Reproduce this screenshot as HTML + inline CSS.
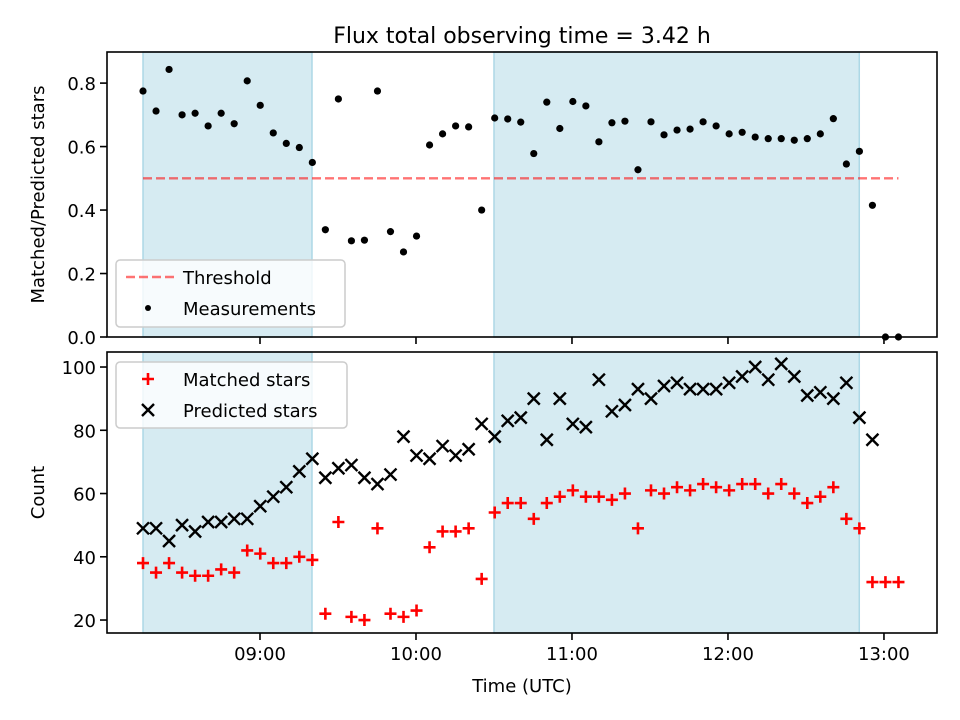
<!DOCTYPE html>
<html><head><meta charset="utf-8"><style>
html,body{margin:0;padding:0;background:#fff;}
svg{display:block;font-family:"DejaVu Sans","Liberation Sans",sans-serif;}
</style></head><body>
<svg id="fig" width="960" height="720" viewBox="0 0 960 720" xmlns="http://www.w3.org/2000/svg">
<rect width="960" height="720" fill="#fff"/>
<text x="522" y="43" font-size="22" text-anchor="middle">Flux total observing time = 3.42 h</text>
<g id="top"></g><g id="bot"></g>
</svg>
<script>
// minutes after 08:15, 5-minute cadence
const ratioVals=[0.775,0.712,0.843,0.700,0.705,0.665,0.705,0.672,0.807,0.730,0.643,0.610,0.597,0.550,0.338,0.750,0.303,0.305,0.775,0.332,0.268,0.318,0.605,0.640,0.665,0.662,0.400,0.690,0.687,0.677,0.578,0.740,0.657,0.742,0.728,0.615,0.675,0.680,0.527,0.678,0.637,0.652,0.655,0.678,0.665,0.640,0.645,0.630,0.625,0.625,0.620,0.625,0.640,0.688,0.545,0.585,0.415,0.0,0.0];
const matchedVals=[38,35,38,35,34,34,36,35,42,41,38,38,40,39,22,51,21,20,49,22,21,23,43,48,48,49,33,54,57,57,52,57,59,61,59,59,58,60,49,61,60,62,61,63,62,61,63,63,60,63,60,57,59,62,52,49,32,32,32];
const predictedVals=[49,49,45,50,48,51,51,52,52,56,59,62,67,71,65,68,69,65,63,66,78,72,71,75,72,74,82,78,83,84,90,77,90,82,81,96,86,88,93,90,94,95,93,93,93,95,97,100,96,101,97,91,92,90,95,84,77];
const startMin=8*60+15, stepMin=5.01;
const shadeSpans=[[8*60+15,9*60+20],[10*60+30,12*60+50.5]];
const xTickLabels=["09:00","10:00","11:00","12:00","13:00"];
const xTickMins=[540,600,660,720,780];
const topTicks=[0,0.2,0.4,0.6,0.8];
const botTicks=[20,40,60,80,100];
const threshold=0.5;

const NS="http://www.w3.org/2000/svg";
const L=107,R=937;
const xMin=481.15,xMax=800.4;
const x=m=>L+(m-xMin)/(xMax-xMin)*(R-L);
const T={top:52,bot:337,min:0,max:0.898};
const B={top:352,bot:633,min:15.9,max:104.75};
const yT=v=>T.bot-(v-T.min)/(T.max-T.min)*(T.bot-T.top);
const yB=v=>B.bot-(v-B.min)/(B.max-B.min)*(B.bot-B.top);
function el(parent,tag,attrs,text){const e=document.createElementNS(NS,tag);for(const k in attrs)e.setAttribute(k,attrs[k]);if(text!==undefined)e.textContent=text;parent.appendChild(e);return e;}
const gT=document.getElementById('top'),gB=document.getElementById('bot');

function panel(g,P,yf,ticks,fmt,showX,ylab,nm){
  shadeSpans.forEach((s,i)=>{
    const r=el(g,'rect',{x:x(s[0]),y:P.top,width:x(s[1])-x(s[0]),height:P.bot-P.top,fill:'#add8e6','fill-opacity':0.5,stroke:'#add8e6','stroke-width':1.5});
    
    
  });
  ticks.forEach(t=>{
    const yy=yf(t);
    el(g,'line',{x1:L-7,x2:L,y1:yy,y2:yy,stroke:'#000','stroke-width':1.6});
    const tx=el(g,'text',{x:L-11,y:yy+7,'font-size':18,'text-anchor':'end'},fmt(t));
    
    
  });
  xTickMins.forEach((m,i)=>{
    el(g,'line',{x1:x(m),x2:x(m),y1:P.bot,y2:P.bot+7,stroke:'#000','stroke-width':1.6});
    if(showX){
      const tx=el(g,'text',{x:x(m),y:P.bot+27,'font-size':18,'text-anchor':'middle'},xTickLabels[i]);
      
      
    }
  });
  const yl=el(g,'text',{transform:`translate(44,${(P.top+P.bot)/2}) rotate(-90)`,'font-size':18,'text-anchor':'middle'},ylab);
  
  
}
function frame(g,P,nm){
  const f=el(g,'rect',{x:L,y:P.top,width:R-L,height:P.bot-P.top,fill:'none',stroke:'#000','stroke-width':1.6});
  
  
}
const tm=i=>startMin+i*stepMin;

// top
panel(gT,T,yT,topTicks,v=>v.toFixed(1),false,'Matched/Predicted stars','top');
const th=el(gT,'line',{x1:x(tm(0)),x2:x(tm(ratioVals.length-1)),y1:yT(threshold),y2:yT(threshold),stroke:'#ff0000','stroke-opacity':0.55,'stroke-width':2.4,'stroke-dasharray':'9,4'});


ratioVals.forEach((v,i)=>{
  const c=el(gT,'circle',{cx:x(tm(i)),cy:yT(v),r:3.6,fill:'#000'});
  
  
});
frame(gT,T,'top');

// bottom
panel(gB,B,yB,botTicks,v=>String(v),true,'Count','bottom');
function plus(g,cx,cy){const p=el(g,'path',{d:`M${cx-6},${cy}H${cx+6}M${cx},${cy-6}V${cy+6}`,stroke:'#ff0000','stroke-width':2.6,fill:'none'});return p;}
function cross(g,cx,cy){const p=el(g,'path',{d:`M${cx-6},${cy-6}L${cx+6},${cy+6}M${cx-6},${cy+6}L${cx+6},${cy-6}`,stroke:'#000','stroke-width':2.4,fill:'none'});return p;}
matchedVals.forEach((v,i)=>{
  const p=plus(gB,x(tm(i)),yB(v));
  
  
});
predictedVals.forEach((v,i)=>{
  const p=cross(gB,x(tm(i)),yB(v));
  
  
});
frame(gB,B,'bottom');
const xl=el(gB,'text',{x:522,y:692,'font-size':18,'text-anchor':'middle'},'Time (UTC)');



// legends
function legend(g,x0,y0,w,h,entries,nm){
  const lg=el(g,'g',{});
  
  
  el(lg,'rect',{x:x0,y:y0,width:w,height:h,rx:4,fill:'#fff','fill-opacity':0.8,stroke:'#ccc','stroke-width':1.5});
  entries.forEach((e,i)=>{
    const cy=y0+17+i*31;
    const eg=el(lg,'g',{});
    
    
    if(e.k==='dash')el(eg,'line',{x1:x0+10,x2:x0+60,y1:cy,y2:cy,stroke:'#ff0000','stroke-opacity':0.55,'stroke-width':2.4,'stroke-dasharray':'9,4'});
    if(e.k==='dot')el(eg,'circle',{cx:x0+32,cy:cy,r:3,fill:'#000'});
    if(e.k==='plus')plus(eg,x0+32,cy);
    if(e.k==='x')cross(eg,x0+32,cy);
    el(eg,'text',{x:x0+67,y:cy+7,'font-size':18},e.t);
  });
}
legend(gT,116,260,229,67,[{k:'dash',t:'Threshold'},{k:'dot',t:'Measurements'}],'top-legend');
legend(gB,116,362,231,66,[{k:'plus',t:'Matched stars'},{k:'x',t:'Predicted stars'}],'bottom-legend');
</script>
</body></html>
